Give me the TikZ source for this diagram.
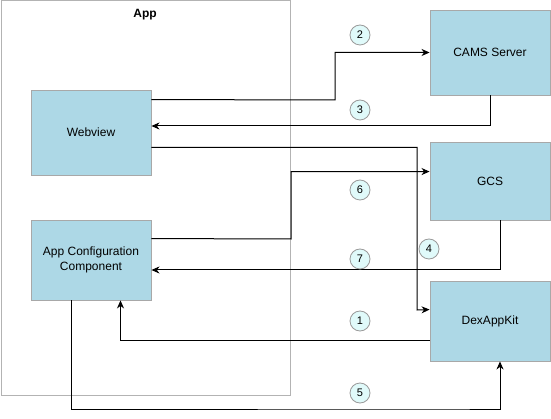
\documentclass[tikz,border=0pt]{standalone}
\usepackage{fontspec}
\setmainfont{Liberation Sans}
\usetikzlibrary{calc,arrows.meta}
\definecolor{boxfill}{HTML}{ADD8E6}
\definecolor{boxline}{HTML}{A8A8A8}
\definecolor{contline}{HTML}{B3B3B3}
\definecolor{numfill}{HTML}{E0FAFA}
\definecolor{numline}{HTML}{9A9A9A}
\tikzset{
  blk/.style={draw=boxline, fill=boxfill, line width=0.9pt, minimum width=120pt, inner sep=0pt, align=center, font=\fontsize{12}{14}\selectfont},
  num/.style={circle, draw=numline, fill=numfill, line width=0.8pt, minimum size=20pt, inner sep=0pt, font=\fontsize{11}{13}\selectfont},
  arr/.style={draw=black, line width=1pt, -{Stealth[length=8pt,width=7pt,inset=2.5pt]}},
}
\begin{document}
\begin{tikzpicture}[x=1pt,y=-1pt]
\useasboundingbox (0,0) rectangle (551,419);
\fill[white] (0,0) rectangle (551,419);
% container
\node[draw=contline, line width=1pt, minimum width=289pt, minimum height=394pt, inner sep=0pt] (app) at (145.5,198) {};
\node[font=\bfseries\fontsize{12}{14}\selectfont] (apptitle) at (145,15) {App};
% boxes
\node[blk, minimum height=85pt] (web) at (91,132.5) {Webview};
\node[blk, minimum height=80pt] (cfg) at (91,260) {App Configuration\\[1pt]Component};
\node[blk, minimum height=85pt] (cams) at (490,52.5) {CAMS Server};
\node[blk, minimum height=78pt] (gcs) at (490,181) {GCS};
\node[blk, minimum height=80pt] (dex) at (490,321) {DexAppKit};
% connectors
\draw[arr] ($(web.north east)+(0,10)$) -- (335,100) |- (cams.west);
\draw[arr] (cams.south) |- ($(web.east)+(0,-6.5)$);
\draw[arr] ($(web.south east)+(0,-28)$) -| (417,310) -- ($(dex.north west)+(0,29)$);
\draw[arr] ($(cfg.north east)+(0,19)$) -- (291,239) |- ($(gcs.north west)+(0,30)$);
\draw[arr] ($(gcs.south)+(10.5,0)$) |- ($(cfg.east)+(0,10)$);
\draw[arr] ($(dex.north west)+(0,60)$) -| ($(cfg.south)+(29.5,0)$);
\draw[arr] ($(cfg.south)+(-20,0)$) |- (440,409) -| ($(dex.south)+(10,0)$);
% numbers
\node[num] (n2) at (360,35) {2};
\node[num] (n3) at (360,110) {3};
\node[num] (n6) at (360,190) {6};
\node[num] (n7) at (360,259) {7};
\node[num] (n4) at (429,249) {4};
\node[num] (n1) at (360,321) {1};
\node[num] (n5) at (360,393) {5};
\end{tikzpicture}
\end{document}
